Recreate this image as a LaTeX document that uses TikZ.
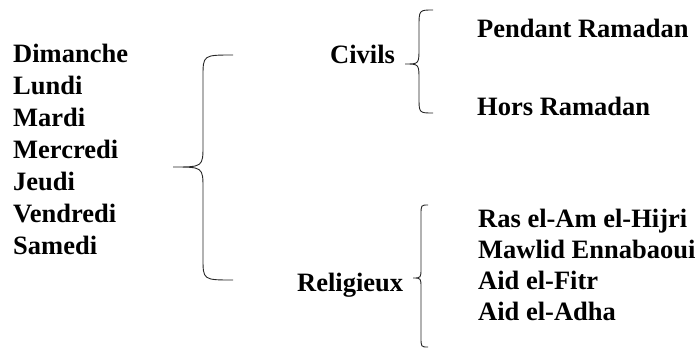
\documentclass[tikz,border=0pt]{standalone}
\usepackage{fontspec}
\setmainfont{Liberation Serif}
\usepackage{xcolor}

\tikzset{
  mot/.style={anchor=base west,inner sep=0pt,font=\fontsize{26.5}{31}\selectfont\bfseries},
  accolade/.style={draw=black!85,line width=0.9pt}
}

\begin{document}
\begin{tikzpicture}[x=1pt,y=-1pt]
\useasboundingbox (0,0) rectangle (699,349); % Size of the picture
% Days of the week
\node[mot] (dimanche) at (13,62) {Dimanche};
\node[mot] (lundi) at (13,94) {Lundi};
\node[mot] (mardi) at (13,126) {Mardi};
\node[mot] (mercredi) at (13,158) {Mercredi};
\node[mot] (jeudi) at (13,190) {Jeudi};
\node[mot] (vendredi) at (13,222) {Vendredi};
\node[mot] (samedi) at (13,254) {Samedi};
% Big brace after the days
\draw[accolade] (233,55) .. controls (203,55) .. (203,77) -- (203,145) .. controls (203,167) .. (173,167) .. controls (203,167) .. (203,189) -- (203,258) .. controls (203,280) .. (233,280);
% Civil holidays
\node[mot] (civils) at (330,63) {Civils};
\draw[accolade] (433,10) .. controls (419,10) .. (419,27) -- (419,48) .. controls (419,64) .. (405,64) .. controls (419,64) .. (419,80) -- (419,97) .. controls (419,113) .. (433,113);
\node[mot] (pendant) at (477,37) {Pendant Ramadan};
\node[mot] (hors) at (477,115) {Hors Ramadan};
% Religious holidays
\node[mot] (religieux) at (297,291) {Religieux};
\draw[accolade] (428,205) .. controls (421,205) .. (421,215) -- (421,268) .. controls (421,278) .. (413,278) .. controls (421,278) .. (421,288) -- (421,337) .. controls (421,347) .. (428,347);
\node[mot] (ras) at (478,227) {Ras el-Am el-Hijri};
\node[mot] (mawlid) at (478,258) {Mawlid Ennabaoui};
\node[mot] (fitr) at (478,289) {Aid el-Fitr};
\node[mot] (adha) at (478,320) {Aid el-Adha};
\end{tikzpicture}
\end{document}
